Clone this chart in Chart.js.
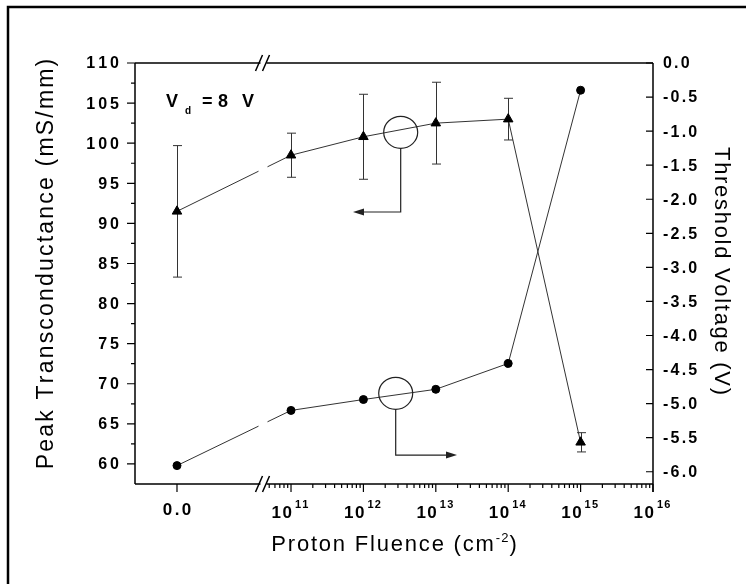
<!DOCTYPE html>
<html>
<head>
<meta charset="utf-8">
<script src="https://cdn.jsdelivr.net/npm/chart.js@4"></script>
<style>
  html, body { margin: 0; padding: 0; background: #fff; }
  #wrap { width: 746px; height: 584px; }
</style>
</head>
<body>
<div id="wrap"><canvas id="myChart" width="746" height="584"></canvas></div>
<script>
// proton fluence in cm^-2 (0 = before irradiation)
const fluence = [0, 1e11, 1e12, 1e13, 1e14, 1e15];
// peak transconductance (mS/mm) and its error bars
const gmPeak = [91.5, 98.5, 100.8, 102.5, 103.0, 62.7];
const gmErr = [8.2, 2.75, 5.3, 5.1, 2.6, 1.2];
// threshold voltage (V)
const vThreshold = [-5.91, -5.10, -4.94, -4.79, -4.41, -0.40];

const gmTicks = [60, 65, 70, 75, 80, 85, 90, 95, 100, 105, 110];
const vthTicks = [0, -0.5, -1, -1.5, -2, -2.5, -3, -3.5, -4, -4.5, -5, -5.5, -6];
const decadeTicks = [11, 12, 13, 14, 15, 16];

// x axis is in decades; the zero point sits left of the axis break
const ZERO_POS = 9.425;
const BREAK_POS = 10.62;
const xPos = f => f === 0 ? ZERO_POS : Math.log10(f);

const FONT = 'Liberation Sans, Arial, sans-serif';

// draw text char by char so we get the wide spacing of the original
function txt(ctx, s, x, y, font, spacing, align) {
    ctx.font = font;
    const chars = [...s];
    const ws = chars.map(c => ctx.measureText(c).width);
    const total = ws.reduce((a, b) => a + b, 0) + spacing * (chars.length - 1);
    let cx = align === 'right' ? x - total : align === 'center' ? x - total / 2 : x;
    ctx.textAlign = 'left';
    chars.forEach((c, i) => { ctx.fillText(c, cx, y); cx += ws[i] + spacing; });
    return total;
}

// text made of pieces (for super/subscripts), centred on x
function pieces(ctx, parts, x, y) {
    const widths = parts.map(p => {
        ctx.font = p.font;
        return [...p.t].reduce((a, c) => a + ctx.measureText(c).width, 0) + p.sp * ([...p.t].length - 1);
    });
    const total = widths.reduce((a, b) => a + b, 0) + parts.slice(1).reduce((a, p) => a + (p.gap || 0), 0);
    let cx = x - total / 2;
    parts.forEach((p, i) => {
        cx += (i > 0 ? (p.gap || 0) : 0);
        txt(ctx, p.t, cx, y + (p.dy || 0), p.font, p.sp, 'left');
        cx += widths[i];
    });
}

// circle + arrow markers telling which curve goes to which axis
const axisMarkers = [
    { axis: 'yL', cx: 12.515, cy: 101.36, bendY: 91.42, tipX: 11.856 },
    { axis: 'yR', cx: 12.446, cy: -4.849, bendY: -5.755, tipX: 13.293 }
];

const figurePlugin = {
    id: 'figure',
    beforeDraw(chart) {
        const c = chart.ctx;
        c.save();
        c.fillStyle = '#fff';
        c.fillRect(0, 0, chart.width, chart.height);
        c.restore();
    },
    beforeDatasetsDraw(chart) {
        // error bars on transconductance
        const c = chart.ctx, x = chart.scales.x, y = chart.scales.yL;
        c.save();
        c.strokeStyle = '#333';
        c.lineWidth = 1;
        fluence.forEach((f, i) => {
            const px = Math.round(x.getPixelForValue(xPos(f))) + 0.5;
            const top = y.getPixelForValue(gmPeak[i] + gmErr[i]);
            const bot = y.getPixelForValue(gmPeak[i] - gmErr[i]);
            c.beginPath();
            c.moveTo(px, top); c.lineTo(px, bot);
            c.moveTo(px - 4.5, top); c.lineTo(px + 4.5, top);
            c.moveTo(px - 4.5, bot); c.lineTo(px + 4.5, bot);
            c.stroke();
        });
        c.restore();
    },
    afterDatasetsDraw(chart) {
        // gap in the lines at the axis break
        const c = chart.ctx, a = chart.chartArea;
        const bx = chart.scales.x.getPixelForValue(BREAK_POS);
        c.save();
        c.fillStyle = '#fff';
        c.fillRect(bx - 5, a.top + 3, 9, a.bottom - a.top - 6);
        c.restore();
    },
    afterDraw(chart) {
        const c = chart.ctx, a = chart.chartArea;
        const x = chart.scales.x, yL = chart.scales.yL, yR = chart.scales.yR;
        const L = a.left, R = a.right, T = a.top, B = a.bottom;
        c.save();
        c.strokeStyle = '#000';
        c.fillStyle = '#000';
        c.lineWidth = 1.5;

        // frame of axes
        c.beginPath();
        c.moveTo(L, T); c.lineTo(L, B);
        c.moveTo(L, T); c.lineTo(R, T);
        c.moveTo(L, B); c.lineTo(R, B);
        c.moveTo(R, T); c.lineTo(R, B + 8);
        c.stroke();

        // left ticks (outward)
        c.lineWidth = 1.2;
        c.beginPath();
        gmTicks.forEach(v => {
            const py = yL.getPixelForValue(v);
            c.moveTo(L - 8, py); c.lineTo(L, py);
            if (v < 110) {
                const pm = yL.getPixelForValue(v + 2.5);
                c.moveTo(L - 4, pm); c.lineTo(L, pm);
            }
        });
        // right ticks (inward)
        vthTicks.forEach(v => {
            const py = yR.getPixelForValue(v);
            c.moveTo(R - 7, py); c.lineTo(R, py);
        });
        // bottom ticks
        const pz = x.getPixelForValue(ZERO_POS);
        c.moveTo(pz, B); c.lineTo(pz, B + 8);
        decadeTicks.forEach(d => {
            const px = x.getPixelForValue(d);
            c.moveTo(px, B); c.lineTo(px, B + 8);
        });
        for (let d = 10; d < 16; d++) {
            for (let k = 2; k <= 9; k++) {
                const p = d + Math.log10(k);
                if (p < BREAK_POS + 0.06) continue;
                const px = x.getPixelForValue(p);
                c.moveTo(px, B); c.lineTo(px, B + 4);
            }
        }
        c.stroke();

        // axis break marks
        const bx = x.getPixelForValue(BREAK_POS);
        [T, B].forEach(yy => {
            c.fillStyle = '#fff';
            c.fillRect(bx - 3, yy - 2, 6, 4);
            c.strokeStyle = '#000';
            c.lineWidth = 1.5;
            c.beginPath();
            c.moveTo(bx - 8, yy + 8); c.lineTo(bx - 1, yy - 8);
            c.moveTo(bx - 1, yy + 8); c.lineTo(bx + 6, yy - 8);
            c.stroke();
        });
        c.fillStyle = '#000';

        // tick labels
        c.textBaseline = 'middle';
        gmTicks.forEach(v => {
            txt(c, String(v), L - 16, yL.getPixelForValue(v) + 1, 'bold 16px ' + FONT, 3, 'right');
        });
        vthTicks.forEach(v => {
            txt(c, v.toFixed(1), R + 10, yR.getPixelForValue(v) + 1, 'bold 16px ' + FONT, 2.2, 'left');
        });
        c.textBaseline = 'alphabetic';
        txt(c, '0.0', pz, 515, 'bold 17px ' + FONT, 2.5, 'center');
        decadeTicks.forEach(d => {
            const px = x.getPixelForValue(d);
            txt(c, '10', px + 1, 518, 'bold 17px ' + FONT, 1.5, 'right');
            txt(c, String(d), px + 4, 508, 'bold 11px ' + FONT, 1.2, 'left');
        });

        // axis titles
        pieces(c, [
            { t: 'Proton Fluence (cm', font: '22px ' + FONT, sp: 1.8 },
            { t: '-2', font: '13px ' + FONT, sp: 1, dy: -9, gap: 2 },
            { t: ')', font: '22px ' + FONT, sp: 0, gap: 1 }
        ], (L + R) / 2, 551);

        c.save();
        c.translate(47, 264);
        c.rotate(-Math.PI / 2);
        c.textBaseline = 'middle';
        txt(c, 'Peak Transconductance (mS/mm)', 0, 0, '23px ' + FONT, 2.2, 'center');
        c.restore();

        c.save();
        c.translate(721, 271);
        c.rotate(Math.PI / 2);
        c.textBaseline = 'middle';
        txt(c, 'Threshold Voltage (V)', 0, 0, '22px ' + FONT, 1.7, 'center');
        c.restore();

        // V_d = 8 V
        c.textBaseline = 'alphabetic';
        txt(c, 'V', 166, 107, 'bold 18px ' + FONT, 0, 'left');
        txt(c, 'd', 185, 114, 'bold 10px ' + FONT, 0, 'left');
        txt(c, '=', 202, 107, 'bold 18px ' + FONT, 0, 'left');
        txt(c, '8', 218, 107, 'bold 18px ' + FONT, 0, 'left');
        txt(c, 'V', 242, 107, 'bold 18px ' + FONT, 0, 'left');

        // circle + arrow markers
        c.strokeStyle = '#222';
        c.fillStyle = '#222';
        c.lineWidth = 1.2;
        axisMarkers.forEach(m => {
            const ys = chart.scales[m.axis];
            const cx = x.getPixelForValue(m.cx), cy = ys.getPixelForValue(m.cy);
            const by = ys.getPixelForValue(m.bendY), tx = x.getPixelForValue(m.tipX);
            c.beginPath();
            c.ellipse(cx, cy, 17, 16, 0, 0, Math.PI * 2);
            c.stroke();
            const dir = tx < cx ? -1 : 1;
            c.beginPath();
            c.moveTo(cx, cy + 16); c.lineTo(cx, by); c.lineTo(tx - dir * 9, by);
            c.stroke();
            c.beginPath();
            c.moveTo(tx, by); c.lineTo(tx - dir * 11, by - 3.5); c.lineTo(tx - dir * 11, by + 3.5);
            c.closePath();
            c.fill();
        });

        // outer picture frame
        c.strokeStyle = '#000';
        c.lineWidth = 2.5;
        c.strokeRect(8, 7, 800, 700);
        c.restore();
    }
};

const ctx = document.getElementById('myChart').getContext('2d');
new Chart(ctx, {
    type: 'line',
    data: {
        datasets: [{
            label: 'Peak Transconductance',
            data: fluence.map((f, i) => ({ x: xPos(f), y: gmPeak[i] })),
            yAxisID: 'yL',
            borderColor: '#333',
            borderWidth: 1,
            pointStyle: 'triangle',
            pointRadius: 5.5,
            pointBackgroundColor: '#000',
            pointBorderColor: '#000',
            tension: 0
        }, {
            label: 'Threshold Voltage',
            data: fluence.map((f, i) => ({ x: xPos(f), y: vThreshold[i] })),
            yAxisID: 'yR',
            borderColor: '#333',
            borderWidth: 1,
            pointStyle: 'circle',
            pointRadius: 4,
            pointBackgroundColor: '#000',
            pointBorderColor: '#000',
            tension: 0
        }]
    },
    options: {
        responsive: false,
        animation: false,
        layout: { padding: { left: 135, top: 63, right: 93, bottom: 100 } },
        plugins: { legend: { display: false }, tooltip: { enabled: false } },
        scales: {
            x: { type: 'linear', min: 8.845, max: 16, display: false },
            yL: { type: 'linear', position: 'left', min: 57.5, max: 110, display: false },
            yR: { type: 'linear', position: 'right', min: -6.18, max: 0, display: false }
        }
    },
    plugins: [figurePlugin]
});
</script>
</body>
</html>
